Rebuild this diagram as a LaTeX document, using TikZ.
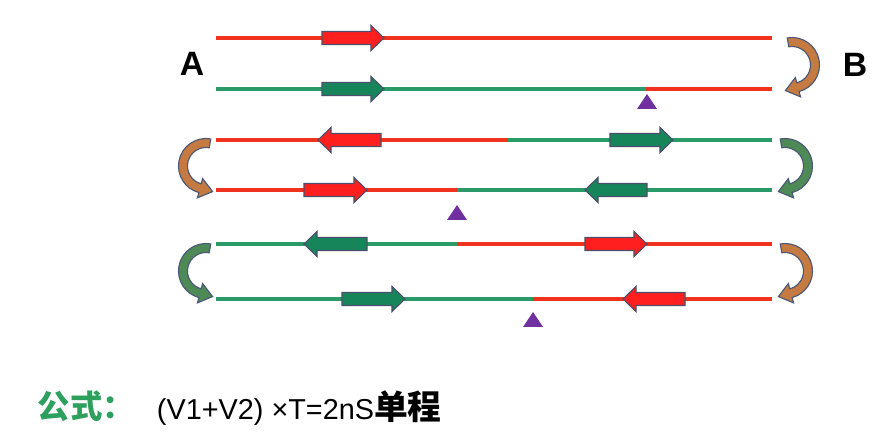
\documentclass[tikz,border=0pt]{standalone}
\usepackage{fontspec}
\setmainfont{Liberation Sans}
\newfontfamily\cjk{Noto Sans CJK SC}
\usetikzlibrary{calc}
\definecolor{linered}{HTML}{F0321E}
\definecolor{linegreen}{HTML}{2A9A68}
\definecolor{arrred}{HTML}{FF1F1F}
\definecolor{arrgreen}{HTML}{17855A}
\definecolor{arrborder}{HTML}{4B4F6B}
\definecolor{tri}{HTML}{7030A0}
\definecolor{uorange}{HTML}{C47A40}
\definecolor{ugreen}{HTML}{4E8A55}
\definecolor{uborder}{HTML}{4A5878}
\definecolor{formgreen}{HTML}{2EA05E}
\tikzset{
  strand/.style={line width=2.4pt},
  blockarrow/.style={draw=arrborder, line width=0.8pt, line join=miter},
  uturn/.style={draw=uborder, line width=0.8pt, line join=miter},
  site/.style={fill=tri},
  endlabel/.style={font=\fontsize{24}{28}\selectfont\bfseries}
}
\newcommand{\blk}[4]{%
  \pgfmathsetmacro{\xb}{#2-13*sign(#2-#1)}%
  \draw[blockarrow, fill=#4] (#1,#3-6.5) -- (\xb,#3-6.5) -- (\xb,#3-12.5) -- (#2,#3) -- (\xb,#3+12.5) -- (\xb,#3+6.5) -- (#1,#3+6.5) -- cycle;}
\newcommand{\uturnarrow}[7]{%
  \coordinate (#1) at (#2,#3);
  \draw[uturn, fill=#7] ($(#1)+(#4:27.5)$) arc[start angle=#4, end angle=#5, radius=27.5]
    -- ($(#1)+(#5:33)$) -- ($(#1)+(#5:23)+(#5#6:13)$) -- ($(#1)+(#5:13)$) -- ($(#1)+(#5:18.5)$)
    arc[start angle=#5, end angle=#4, radius=18.5] -- cycle;}
\newcommand{\sitemark}[3]{%
  \coordinate (#1) at (#2,#3);
  \fill[site] ($(#1)+(-10,15)$) -- ($(#1)$) -- ($(#1)+(10,15)$) -- cycle;}
\begin{document}
\begin{tikzpicture}[x=0.025cm, y=-0.025cm]
\fill[white] (0,0) rectangle (894,438);
\useasboundingbox (0,0) rectangle (894,438);
% row 1
\draw[strand, linered] (216,38) -- (772,38);
\blk{322}{384}{38}{arrred}
% row 2
\draw[strand, linegreen] (216,89) -- (646,89);
\draw[strand, linered] (646,89) -- (772,89);
\blk{322}{384}{89}{arrgreen}
\sitemark{s1}{647}{94}
% row 3
\draw[strand, linered] (216,140) -- (508,140);
\draw[strand, linegreen] (508,140) -- (772,140);
\blk{381}{318}{140}{arrred}
\blk{610}{673}{140}{arrgreen}
% row 4
\draw[strand, linered] (216,190) -- (457,190);
\draw[strand, linegreen] (457,190) -- (772,190);
\blk{304}{367}{190}{arrred}
\blk{647}{585}{190}{arrgreen}
\sitemark{s2}{457}{205}
% row 5
\draw[strand, linegreen] (216,244) -- (457,244);
\draw[strand, linered] (457,244) -- (772,244);
\blk{367}{304}{244}{arrgreen}
\blk{585}{647}{244}{arrred}
% row 6
\draw[strand, linegreen] (216,299) -- (533,299);
\draw[strand, linered] (533,299) -- (772,299);
\blk{342}{405}{299}{arrgreen}
\blk{685}{623}{299}{arrred}
\sitemark{s3}{533}{312}
% U-turns
\uturnarrow{u1}{792}{65}{-100}{75}{+90}{uorange}
\uturnarrow{u2}{785}{166}{-100}{75}{+90}{ugreen}
\uturnarrow{u3}{785}{271}{-100}{75}{+90}{uorange}
\uturnarrow{u4}{206}{166}{-80}{-255}{-90}{uorange}
\uturnarrow{u5}{206}{271}{-80}{-255}{-90}{ugreen}
% labels
\node[endlabel] (A) at (192,64) {A};
\node[endlabel] (B) at (855,65) {B};
\node[anchor=west, text=formgreen, font=\cjk\bfseries\fontsize{23}{27}\selectfont] (formlabel) at (33,406) {公式：};
\node[anchor=west, font=\fontsize{20.5}{24}\selectfont] (formula) at (152,408) {(V1+V2)\ ×T=2nS{\cjk\bfseries\fontsize{24}{28}\selectfont 单程}};
\end{tikzpicture}
\end{document}
